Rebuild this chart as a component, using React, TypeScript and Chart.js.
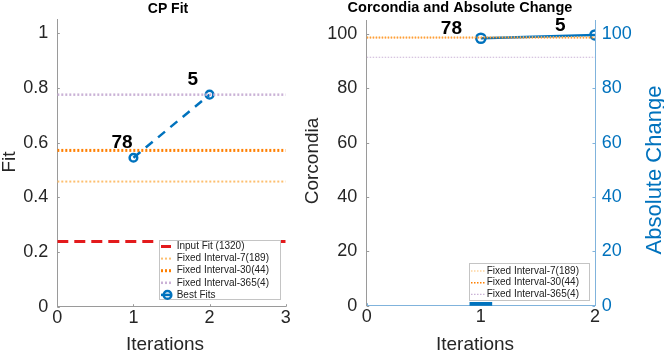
import React, { useEffect, useRef } from 'react';
import { Chart, registerables } from 'chart.js';

Chart.register(...registerables);

const FONT = "'Liberation Sans', Arial, Helvetica, sans-serif";
const TEXT = '#262626';
const BLUE = '#0072BD';
const RED = '#e31a1c';
const LIGHT_ORANGE = '#fdbf6f';
const DARK_ORANGE = '#ff7f00';
const LILAC = '#cab2d6';
const AXIS_GRAY = '#9a9a9a';
const AXIS_BLUE = '#80b3dc';

// ---------- Left panel: CP Fit ----------
const fitXRange = [0, 3];
const fitXTicks = [0, 1, 2, 3];
const fitXTickLabels = ['0', '1', '2', '3'];
const fitYMax = 1.05;
const fitYTicks = [0, 0.2, 0.4, 0.6, 0.8, 1];
const fitYTickLabels = ['0', '0.2', '0.4', '0.6', '0.8', '1'];
const bestFitIterations = [1, 2];
const bestFitValues = [0.545, 0.776];
const bestFitLabels = ['78', '5'];
const inputFitValue = 0.239;
const fixed7FitValue = 0.458;
const fixed30FitValue = 0.572;
const fixed365FitValue = 0.776;

// ---------- Right panel: Corcondia and Absolute Change ----------
const corXRange = [0, 2];
const corXTicks = [0, 1, 2];
const corXTickLabels = ['0', '1', '2'];
const corYMax = 105;
const corYTicks = [0, 20, 40, 60, 80, 100];
const corYTickLabels = ['0', '20', '40', '60', '80', '100'];
const absYTicks = [0, 20, 40, 60, 80, 100];
const absYTickLabels = ['0', '20', '40', '60', '80', '100'];
const corcondiaIterations = [1, 2];
const corcondiaValues = [98.4, 99.6];
const corcondiaLabels = ['78', '5'];
const fixed7Corcondia = 98.9;
const fixed30Corcondia = 98.6;
const fixed365Corcondia = 91.4;
const absChangeIterations = [1];
const absChangeValues = [1.2];

const hLine = (range: number[], y: number) => range.map((x) => ({ x, y }));
const pts = (xs: number[], ys: number[]) => xs.map((x, i) => ({ x, y: ys[i] }));

type TickSpec = { id: string; side: 'left' | 'right' | 'bottom'; color: string; len: number };
type Decor = {
  title: string; titleX: number; titleY: number; titleSize: number;
  xLabel: string; xLabelX: number; xLabelY: number;
  yLabel: string; yLabelX: number; yLabelY: number; yLabelSize: number;
  y2Label?: string; y2LabelX?: number; y2LabelY?: number; y2LabelSize?: number;
  legend: { x: number; y: number; w: number; h: number; row0: number; rowStep: number; sx0: number; sx1: number; tx: number };
  labels: { datasetIndex: number; texts: string[]; dx: number; dy: number };
  ticks: TickSpec[];
};

function drawText(ctx: CanvasRenderingContext2D, str: string, x: number, y: number, font: string, color: string, align: CanvasTextAlign = 'center', rotate = 0, baseline: CanvasTextBaseline = 'alphabetic') {
  ctx.save();
  ctx.font = font;
  ctx.fillStyle = color;
  ctx.textAlign = align;
  ctx.textBaseline = baseline;
  ctx.translate(x, y);
  if (rotate) ctx.rotate(rotate);
  ctx.fillText(str, 0, 0);
  ctx.restore();
}

function makeDecorPlugin(d: Decor) {
  return {
    id: 'decor',
    beforeDatasetsDraw(chart: any) {
      const ctx: CanvasRenderingContext2D = chart.ctx;
      const area = chart.chartArea;
      // inner tick marks
      d.ticks.forEach((s) => {
        const scale = chart.scales[s.id];
        ctx.save();
        ctx.strokeStyle = s.color;
        ctx.lineWidth = 1;
        scale.ticks.forEach((t: any) => {
          const p = Math.round(scale.getPixelForValue(t.value)) + 0.5;
          ctx.beginPath();
          if (s.side === 'bottom') {
            ctx.moveTo(p, area.bottom);
            ctx.lineTo(p, area.bottom - s.len);
          } else if (s.side === 'left') {
            ctx.moveTo(area.left, p);
            ctx.lineTo(area.left + s.len, p);
          } else {
            ctx.moveTo(area.right, p);
            ctx.lineTo(area.right - s.len, p);
          }
          ctx.stroke();
        });
        ctx.restore();
      });
    },
    afterDatasetsDraw(chart: any) {
      const ctx: CanvasRenderingContext2D = chart.ctx;
      // data labels
      const meta = chart.getDatasetMeta(d.labels.datasetIndex);
      meta.data.forEach((el: any, i: number) => {
        drawText(ctx, d.labels.texts[i], el.x + d.labels.dx, el.y + d.labels.dy, `bold 19px ${FONT}`, '#000', 'left');
      });
      // legend
      const L = d.legend;
      ctx.save();
      ctx.fillStyle = '#ffffff';
      ctx.fillRect(L.x, L.y, L.w, L.h);
      ctx.strokeStyle = '#c4c4c4';
      ctx.lineWidth = 1;
      ctx.strokeRect(L.x + 0.5, L.y + 0.5, L.w - 1, L.h - 1);
      ctx.restore();
      let row = 0;
      chart.data.datasets.forEach((ds: any) => {
        if (ds.hideInLegend) return;
        const y = L.y + L.row0 + row * L.rowStep;
        ctx.save();
        ctx.strokeStyle = ds.borderColor;
        ctx.lineWidth = ds.borderWidth;
        ctx.setLineDash(ds.legendDash || ds.borderDash || []);
        ctx.beginPath();
        ctx.moveTo(L.x + L.sx0, y);
        ctx.lineTo(L.x + L.sx1, y);
        ctx.stroke();
        if (ds.pointRadius > 0) {
          ctx.setLineDash([]);
          ctx.lineWidth = ds.pointBorderWidth;
          ctx.beginPath();
          ctx.arc(L.x + (L.sx0 + L.sx1) / 2 + 1.5, y, ds.pointRadius, 0, Math.PI * 2);
          ctx.stroke();
        }
        ctx.restore();
        drawText(ctx, ds.label, L.x + L.tx, y, `10px ${FONT}`, '#222', 'left', 0, 'middle');
        row++;
      });
    },
    afterDraw(chart: any) {
      const ctx: CanvasRenderingContext2D = chart.ctx;
      drawText(ctx, d.title, d.titleX, d.titleY, `bold ${d.titleSize}px ${FONT}`, '#000');
      drawText(ctx, d.xLabel, d.xLabelX, d.xLabelY, `19px ${FONT}`, TEXT);
      drawText(ctx, d.yLabel, d.yLabelX, d.yLabelY, `${d.yLabelSize}px ${FONT}`, TEXT, 'center', -Math.PI / 2);
      if (d.y2Label) {
        drawText(ctx, d.y2Label, d.y2LabelX as number, d.y2LabelY as number, `${d.y2LabelSize}px ${FONT}`, BLUE, 'center', -Math.PI / 2);
      }
    },
  };
}

const tickFont = { family: FONT, size: 18 };

function fixedTicks(values: number[], labels: string[]) {
  return {
    afterBuildTicks: (scale: any) => {
      scale.ticks = values.map((v) => ({ value: v }));
    },
    ticks: {
      autoSkip: false,
      maxRotation: 0,
      minRotation: 0,
      font: tickFont,
      color: TEXT,
      callback: (v: any, i: number) => labels[i],
    },
  };
}

function buildLeft(canvas: HTMLCanvasElement) {
  const xt = fixedTicks(fitXTicks, fitXTickLabels);
  const yt = fixedTicks(fitYTicks, fitYTickLabels);
  const decor: Decor = {
    title: 'CP Fit', titleX: 168, titleY: 12.5, titleSize: 14,
    xLabel: 'Iterations', xLabelX: 165, xLabelY: 350.3,
    yLabel: 'Fit', yLabelX: 15, yLabelY: 162, yLabelSize: 19,
    legend: { x: 159, y: 240, w: 122, h: 60, row0: 6.5, rowStep: 12.1, sx0: 2, sx1: 12, tx: 17.7 },
    labels: { datasetIndex: 4, texts: bestFitLabels, dx: -22, dy: -10 },
    ticks: [
      { id: 'x', side: 'bottom', color: AXIS_GRAY, len: 2.5 },
      { id: 'y', side: 'left', color: AXIS_GRAY, len: 2.5 },
    ],
  };
  return new Chart(canvas, {
    type: 'line',
    data: {
      datasets: [
        { label: 'Input Fit (1320)', data: hLine(fitXRange, inputFitValue), borderColor: RED, borderWidth: 3, borderDash: [11, 6], pointRadius: 0, legendDash: [] } as any,
        { label: 'Fixed Interval-7(189)', data: hLine(fitXRange, fixed7FitValue), borderColor: LIGHT_ORANGE, borderWidth: 2, borderDash: [2, 2], pointRadius: 0 } as any,
        { label: 'Fixed Interval-30(44)', data: hLine(fitXRange, fixed30FitValue), borderColor: DARK_ORANGE, borderWidth: 3, borderDash: [2, 2], pointRadius: 0 } as any,
        { label: 'Fixed Interval-365(4)', data: hLine(fitXRange, fixed365FitValue), borderColor: LILAC, borderWidth: 2.5, borderDash: [2, 2], pointRadius: 0 } as any,
        {
          label: 'Best Fits', data: pts(bestFitIterations, bestFitValues), borderColor: BLUE, borderWidth: 2.5, borderDash: [9, 7],
          pointRadius: 3.8, pointBorderWidth: 2.5, pointBackgroundColor: 'rgba(0,0,0,0)', pointBorderColor: BLUE, legendDash: [],
        } as any,
      ],
    },
    options: {
      responsive: false,
      animation: false,
      devicePixelRatio: 1,
      events: [],
      layout: { padding: { top: 18, right: 14.3, left: 0, bottom: 0 } },
      plugins: { legend: { display: false }, tooltip: { enabled: false }, title: { display: false } },
      scales: {
        x: {
          type: 'linear', min: fitXRange[0], max: fitXRange[1], offset: false,
          afterBuildTicks: xt.afterBuildTicks,
          afterFit: (s: any) => { s.height = 46.3; },
          ticks: { ...xt.ticks, padding: 1 },
          grid: { display: false, drawTicks: false },
          border: { display: true, color: AXIS_GRAY, width: 1 },
        },
        y: {
          type: 'linear', min: 0, max: fitYMax,
          afterBuildTicks: yt.afterBuildTicks,
          afterFit: (s: any) => { s.width = 57.3; },
          ticks: { ...yt.ticks, padding: 9 },
          grid: { display: false, drawTicks: false },
          border: { display: true, color: AXIS_GRAY, width: 1 },
        },
      },
    } as any,
    plugins: [makeDecorPlugin(decor)],
  });
}

function buildRight(canvas: HTMLCanvasElement) {
  const xt = fixedTicks(corXTicks, corXTickLabels);
  const yt = fixedTicks(corYTicks, corYTickLabels);
  const y1t = fixedTicks(absYTicks, absYTickLabels);
  const decor: Decor = {
    title: 'Corcondia and Absolute Change', titleX: 160, titleY: 12, titleSize: 14.5,
    xLabel: 'Iterations', xLabelX: 175, xLabelY: 350.3,
    yLabel: 'Corcondia', yLabelX: 18, yLabelY: 161, yLabelSize: 19,
    y2Label: 'Absolute Change', y2LabelX: 361, y2LabelY: 170, y2LabelSize: 22,
    legend: { x: 169, y: 263, w: 121, h: 38, row0: 8, rowStep: 11.7, sx0: 2, sx1: 16, tx: 17.7 },
    labels: { datasetIndex: 3, texts: corcondiaLabels, dx: -40, dy: -4 },
    ticks: [
      { id: 'x', side: 'bottom', color: AXIS_BLUE, len: 2.5 },
      { id: 'y', side: 'left', color: AXIS_GRAY, len: 2.5 },
      { id: 'y1', side: 'right', color: AXIS_BLUE, len: 2.5 },
    ],
  };
  return new Chart(canvas, {
    type: 'line',
    data: {
      datasets: [
        { label: 'Fixed Interval-7(189)', data: hLine(corXRange, fixed7Corcondia), borderColor: LIGHT_ORANGE, borderWidth: 1.2, borderDash: [1.5, 1.5], pointRadius: 0, yAxisID: 'y' } as any,
        { label: 'Fixed Interval-30(44)', data: hLine(corXRange, fixed30Corcondia), borderColor: DARK_ORANGE, borderWidth: 1.6, borderDash: [1.5, 1.5], pointRadius: 0, yAxisID: 'y' } as any,
        { label: 'Fixed Interval-365(4)', data: hLine(corXRange, fixed365Corcondia), borderColor: LILAC, borderWidth: 1.2, borderDash: [1.5, 1.5], pointRadius: 0, yAxisID: 'y' } as any,
        {
          label: 'Corcondia', hideInLegend: true, data: pts(corcondiaIterations, corcondiaValues), borderColor: BLUE, borderWidth: 2.5,
          pointRadius: 4.6, pointBorderWidth: 2.5, pointBackgroundColor: 'rgba(0,0,0,0)', pointBorderColor: BLUE, yAxisID: 'y', clip: 0,
        } as any,
        {
          type: 'bar', label: 'Absolute Change', hideInLegend: true, data: pts(absChangeIterations, absChangeValues),
          backgroundColor: BLUE, borderWidth: 0, barThickness: 22, yAxisID: 'y1',
        } as any,
      ],
    },
    options: {
      responsive: false,
      animation: false,
      devicePixelRatio: 1,
      events: [],
      layout: { padding: { top: 18, right: 0, left: 0, bottom: 0 } },
      plugins: { legend: { display: false }, tooltip: { enabled: false }, title: { display: false } },
      scales: {
        x: {
          type: 'linear', min: corXRange[0], max: corXRange[1], offset: false,
          afterBuildTicks: xt.afterBuildTicks,
          afterFit: (s: any) => { s.height = 47.3; },
          ticks: { ...xt.ticks, padding: 1 },
          grid: { display: false, drawTicks: false },
          border: { display: true, color: AXIS_BLUE, width: 1 },
        },
        y: {
          type: 'linear', position: 'left', min: 0, max: corYMax,
          afterBuildTicks: yt.afterBuildTicks,
          afterFit: (s: any) => { s.width = 66.7; },
          ticks: { ...yt.ticks, padding: 9.5 },
          grid: { display: false, drawTicks: false },
          border: { display: true, color: AXIS_GRAY, width: 1 },
        },
        y1: {
          type: 'linear', position: 'right', min: 0, max: corYMax,
          afterBuildTicks: y1t.afterBuildTicks,
          afterFit: (s: any) => { s.width = 69; },
          ticks: { ...y1t.ticks, color: BLUE, padding: 6.7 },
          grid: { display: false, drawTicks: false },
          border: { display: true, color: AXIS_BLUE, width: 1 },
        },
      },
    } as any,
    plugins: [makeDecorPlugin(decor)],
  });
}

export default function App() {
  const leftRef = useRef<HTMLCanvasElement>(null);
  const rightRef = useRef<HTMLCanvasElement>(null);
  useEffect(() => {
    const a = buildLeft(leftRef.current as HTMLCanvasElement);
    const b = buildRight(rightRef.current as HTMLCanvasElement);
    return () => {
      a.destroy();
      b.destroy();
    };
  }, []);
  return (
    <div style={{ position: 'fixed', left: 0, top: 0, width: 664, height: 353, background: '#ffffff', overflow: 'hidden' }}>
      <canvas ref={leftRef} width={300} height={353} style={{ position: 'absolute', left: 0, top: 0, width: 300, height: 353 }} />
      <canvas ref={rightRef} width={364} height={353} style={{ position: 'absolute', left: 300, top: 0, width: 364, height: 353 }} />
    </div>
  );
}
